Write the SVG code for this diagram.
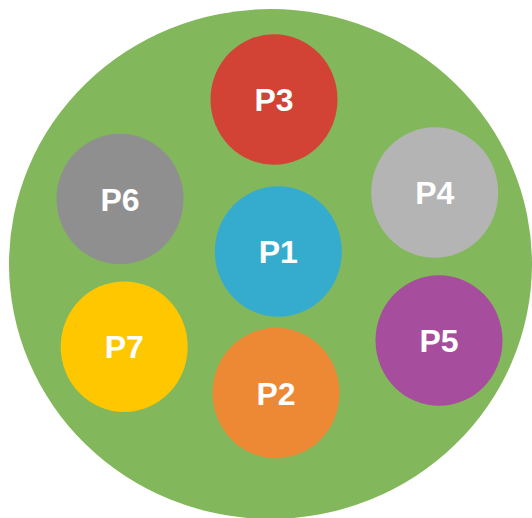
<svg xmlns="http://www.w3.org/2000/svg" width="532" height="518" viewBox="0 0 532 518">
  <style>
    .node text { font-family: "Liberation Sans", Arial, sans-serif; font-weight: bold; font-size: 32px; fill: #ffffff; text-anchor: middle; }
  </style>
  <rect width="532" height="518" fill="#ffffff"/>
  <!-- outer container -->
  <ellipse id="container" cx="270.5" cy="264" rx="261.5" ry="255" fill="#82B85B"/>
  <g id="connectors"></g>
  <g id="P3" class="node">
    <ellipse cx="274" cy="99.5" rx="63.5" ry="65.3" fill="#D24235"/>
    <text x="274" y="111">P3</text>
  </g>
  <g id="P6" class="node">
    <ellipse cx="120" cy="199" rx="63.5" ry="65.3" fill="#8F8F8F"/>
    <text x="120" y="210.5">P6</text>
  </g>
  <g id="P4" class="node">
    <ellipse cx="434.7" cy="192.5" rx="63.5" ry="65.3" fill="#B4B4B4"/>
    <text x="434.7" y="204">P4</text>
  </g>
  <g id="P1" class="node">
    <ellipse cx="278.3" cy="251.5" rx="63.5" ry="65.3" fill="#35ACCE"/>
    <text x="278.3" y="263">P1</text>
  </g>
  <g id="P7" class="node">
    <ellipse cx="124.2" cy="346.7" rx="63.5" ry="65.3" fill="#FFC700"/>
    <text x="124.2" y="358.2">P7</text>
  </g>
  <g id="P2" class="node">
    <ellipse cx="276" cy="393" rx="63.5" ry="65.3" fill="#ED8834"/>
    <text x="276" y="404.5">P2</text>
  </g>
  <g id="P5" class="node">
    <ellipse cx="439" cy="340.5" rx="63.5" ry="65.3" fill="#A64E9D"/>
    <text x="439" y="352">P5</text>
  </g>
</svg>
